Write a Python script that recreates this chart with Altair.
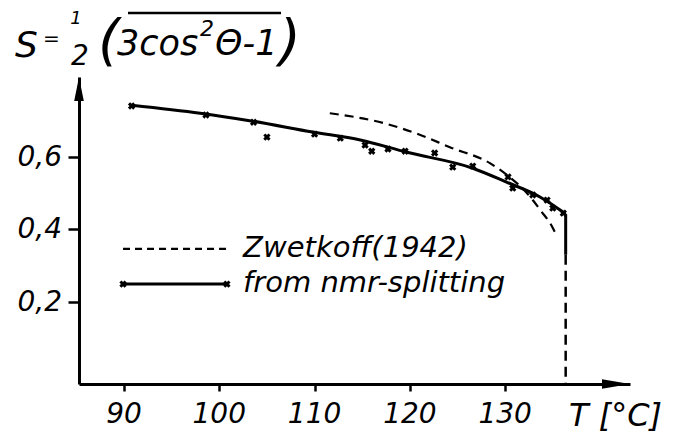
import altair as alt
import pandas as pd

# ---- data ----
nmr_T = [90.8, 98.6, 103.6, 105.0, 110.0, 112.7, 115.3, 116.0, 117.7, 119.5,
         122.6, 124.5, 126.6, 130.3, 130.8, 132.9, 134.4, 135.0, 136.1]
nmr_S = [0.741, 0.716, 0.696, 0.655, 0.663, 0.652, 0.633, 0.616, 0.622, 0.616,
         0.611, 0.572, 0.575, 0.545, 0.514, 0.495, 0.481, 0.459, 0.445]

fit_T = [90.8, 98.0, 103.5, 109.8, 114.8, 119.7, 126.6, 130.2, 133.7, 135.8, 136.35]
fit_S = [0.743, 0.721, 0.699, 0.669, 0.647, 0.613, 0.569, 0.530, 0.489, 0.453, 0.442]

zw_T = [111.6, 117.2, 121.1, 124.2, 128.4, 130.2, 132.3, 133.7, 135.0, 135.2]
zw_S = [0.721, 0.694, 0.661, 0.627, 0.583, 0.550, 0.500, 0.453, 0.404, 0.393]

T_c = 136.35          # clearing point (vertical drop)
S_c_solid_end = 0.33  # solid part of the vertical drop ends here
x_ticks = [90, 100, 110, 120, 130]
x_tick_labels = ["90", "100", "110", "120", "130"]
y_ticks = [0.2, 0.4, 0.6]
y_tick_labels = ["0,2", "0,4", "0,6"]
x_domain = [85.28, 143.1]
y_domain = [-0.027, 0.821]

legend_labels = ["Zwetkoff(1942)", "from nmr-splitting"]
legend_line_T = [89.9, 100.8]
legend_line_S = [0.346, 0.249]
legend_text_T = 102.5
legend_text_S = [0.323, 0.227]

FONT = "DejaVu Sans"
W, H = 551, 307

xenc = alt.X("T:Q", scale=alt.Scale(domain=x_domain, nice=False, zero=False),
             axis=alt.Axis(values=x_ticks, title=None, grid=False, domainColor="black",
                           domainWidth=3, tickColor="black", tickWidth=2.5, tickSize=7,
                           labels=False))
yenc = alt.Y("S:Q", scale=alt.Scale(domain=y_domain, nice=False, zero=False),
             axis=alt.Axis(values=y_ticks, title=None, grid=False, domainColor="black",
                           domainWidth=3, tickColor="black", tickWidth=2.5, tickSize=11,
                           labels=False))

nmr_df = pd.DataFrame({"T": nmr_T, "S": nmr_S})
fit_df = pd.DataFrame({"T": fit_T, "S": fit_S})
zw_df = pd.DataFrame({"T": zw_T, "S": zw_S})

fit_line = alt.Chart(fit_df).mark_line(color="black", strokeWidth=3, interpolate="monotone").encode(x=xenc, y=yenc)
points = alt.Chart(nmr_df).mark_point(shape="cross", angle=45, filled=True, size=55,
                                      color="black", opacity=1).encode(x=xenc, y=yenc)
zw_line = alt.Chart(zw_df).mark_line(color="black", strokeWidth=2.2, strokeDash=[9, 6],
                                     interpolate="monotone").encode(x=xenc, y=yenc)

drop_solid = alt.Chart(pd.DataFrame({"T": [T_c], "S": [fit_S[-1]], "S2": [S_c_solid_end]})).mark_rule(
    color="black", strokeWidth=3).encode(x=xenc, y=yenc, y2="S2:Q")
drop_dash = alt.Chart(pd.DataFrame({"T": [T_c], "S": [S_c_solid_end], "S2": [y_domain[0]]})).mark_rule(
    color="black", strokeWidth=2.5, strokeDash=[10, 6]).encode(x=xenc, y=yenc, y2="S2:Q")

# tick labels (italic, comma decimals)
xlab = alt.Chart(pd.DataFrame({"T": x_ticks, "S": [y_domain[0]] * len(x_ticks), "lab": x_tick_labels})).mark_text(
    align="center", baseline="middle", dy=31, fontSize=28, font=FONT, fontStyle="italic", color="black").encode(
    x=xenc, y=yenc, text="lab:N")
ylab = alt.Chart(pd.DataFrame({"T": [x_domain[0]] * len(y_ticks), "S": y_ticks, "lab": y_tick_labels})).mark_text(
    align="right", baseline="middle", dx=-17, dy=1, fontSize=28, font=FONT, fontStyle="italic", color="black").encode(
    x=xenc, y=yenc, text="lab:N")

# legend (drawn inside the plot)
leg_dash = alt.Chart(pd.DataFrame({"T": [legend_line_T[0]], "T2": [legend_line_T[1]],
                                   "S": [legend_line_S[0]]})).mark_rule(
    color="black", strokeWidth=2.2, strokeDash=[7, 5]).encode(x=xenc, x2="T2:Q", y=yenc)
leg_solid = alt.Chart(pd.DataFrame({"T": [legend_line_T[0]], "T2": [legend_line_T[1]],
                                    "S": [legend_line_S[1]]})).mark_rule(
    color="black", strokeWidth=3).encode(x=xenc, x2="T2:Q", y=yenc)
leg_pts = alt.Chart(pd.DataFrame({"T": legend_line_T, "S": [legend_line_S[1]] * 2})).mark_point(
    shape="cross", angle=45, filled=True, size=55, color="black", opacity=1).encode(x=xenc, y=yenc)
leg_text = alt.Chart(pd.DataFrame({"T": [legend_text_T] * 2, "S": legend_text_S, "lab": legend_labels})).mark_text(
    align="left", baseline="alphabetic", fontSize=29, font=FONT, fontStyle="italic", color="black").encode(
    x=xenc, y=yenc, text="lab:N")

# axis arrowheads
y_arrow = alt.Chart(pd.DataFrame({"a": [1]})).mark_point(
    shape="M0,-1L0.4,1L-0.4,1Z", filled=True, size=576, color="black", opacity=1).encode(
    x=alt.value(0), y=alt.value(12))
x_arrow = alt.Chart(pd.DataFrame({"a": [1]})).mark_point(
    shape="M1,0L-1,-0.34L-1,0.34Z", filled=True, size=784, color="black", opacity=1).encode(
    x=alt.value(W - 14), y=alt.value(H))


def txt(s, px, py, size, align="left", baseline="alphabetic"):
    return alt.Chart(pd.DataFrame({"t": [s]})).mark_text(
        align=align, baseline=baseline, fontSize=size, font=FONT, fontStyle="italic",
        color="black").encode(x=alt.value(px), y=alt.value(py), text="t:N")


title_parts = [
    txt("S", -64, -20, 36),
    txt("=", -36, -38, 20, baseline="middle"),
    txt("1", -3, -53, 18, align="center"),
    txt("2", 1, -12, 28, align="center"),
    txt("(", 19, -18, 56),
    txt("3cos", 38, -22, 35),
    txt("2", 121, -41, 22),
    txt("Θ-1", 136, -22, 35),
    txt(")", 200, -18, 56),
    txt("T [°C]", 490, H + 32, 32, baseline="middle"),
]
overline = alt.Chart(pd.DataFrame({"a": [1]})).mark_rule(color="black", strokeWidth=2.5).encode(
    x=alt.value(49), x2=alt.value(202), y=alt.value(-64))

chart = alt.layer(
    zw_line, fit_line, points, drop_solid, drop_dash, xlab, ylab,
    leg_dash, leg_solid, leg_pts, leg_text,
    y_arrow, x_arrow, overline, *title_parts
).properties(
    width=W, height=H,
    autosize=alt.AutoSizeParams(type="none"),
    padding={"left": 71, "top": 69, "right": 38, "bottom": 50},
    background="white",
).configure_view(stroke=None)

chart.save("out.html", embed_options={"renderer": "svg", "actions": False})
